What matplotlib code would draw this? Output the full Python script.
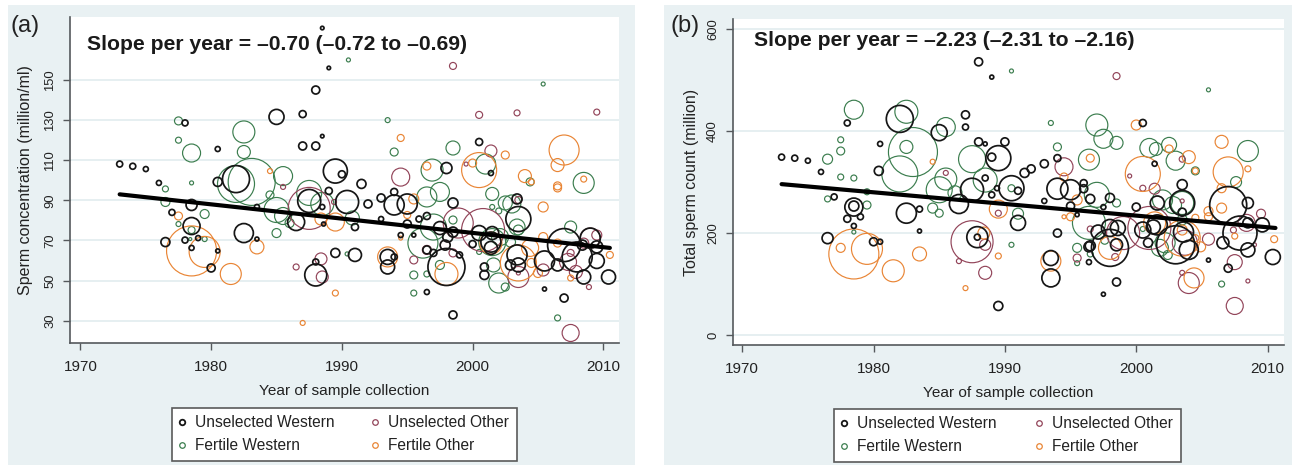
import matplotlib
matplotlib.use("Agg")
import matplotlib.pyplot as plt
from matplotlib.lines import Line2D
from matplotlib.patches import Rectangle

# (a) sperm concentration: year, value, bubble diameter (study weight)
a_uw_year = [1973, 1974, 1975, 1976, 1977, 1978, 1980.5, 1980.5, 1981.9, 1978.5, 1978.5, 1976.5, 1978, 1978.5, 1979, 1980.5, 1980, 1982.5, 1983.5, 1983.5,
             1985, 1987, 1987, 1988, 1988, 1988.5, 1988.5, 1989, 1986.5, 1987.5, 1989.5, 1990, 1989, 1991.5, 1990.4, 1992, 1988.5, 1988.6, 1991, 1989.5,
             1991, 1988, 1988, 1993.5, 1993.5, 1994, 1993, 1994, 1994, 1995, 1993, 1995, 1995.9, 1994.5, 1995.5, 1998, 2000.5, 2001.4, 1998.5, 2003.4,
             2003.5, 1996.5, 1997.5, 1998.1, 1998.5, 1997.9, 1996.5, 1997, 1999, 1998, 1996.5, 1998.5, 2000, 2000.5, 2001.5, 2001.4, 2001.4, 2000.9, 2000.9, 2003.4,
             2003.5, 2002.9, 2005.5, 2005.5, 2007, 2007, 2006.5, 2008, 2008.5, 2008.4, 2009.5, 2009, 2009.5, 2010.4]
a_uw_val = [108.1, 107, 105.6, 98.7, 84, 128.6, 115.6, 99.2, 100.6, 87.7, 77.2, 69.2, 70.2, 66.3, 71.2, 64.8, 56.3, 73.7, 70.7, 86.7,
            131.6, 133, 117.1, 117.1, 145, 122, 175.9, 156, 79.2, 89.7, 104.6, 103, 94.7, 98.2, 89.2, 88.2, 86.7, 78.2, 76.7, 63.8,
            62.8, 59.3, 52.8, 61.8, 56.8, 61.8, 91.2, 94.2, 87.7, 88.2, 80.7, 78.2, 80.7, 72.7, 72.7, 106.1, 119.1, 103.6, 88.7, 90.7,
            80.7, 82.2, 76.2, 71.7, 74.2, 67.7, 65.3, 63.8, 62.8, 56.8, 44.3, 32.9, 68.2, 73.7, 73.7, 69.2, 66.3, 56.8, 52.8, 62.8,
            57.8, 57.8, 59.8, 45.8, 41.3, 67.7, 57.8, 61.8, 51.8, 67.7, 59.8, 71.2, 66.8, 51.8]
a_uw_size = [6, 6, 5, 5, 6, 6, 5, 9, 27, 11, 17, 9, 6, 5, 5, 4, 8, 19, 4, 5,
             15, 7, 8, 8, 8, 3.5, 3.5, 3.5, 17, 23, 24, 7, 7, 9, 23, 8, 5, 4, 7, 9,
             13, 6, 22, 15, 14, 6, 8, 7, 20, 20, 5, 8, 6, 5, 4, 11, 7, 5, 10, 10,
             25, 7, 13, 10, 10, 10, 8, 7, 6, 37, 5, 8, 7, 15, 13, 20, 13, 8, 9, 20,
             14, 10, 20, 4, 8, 33, 12, 30, 14, 10, 15, 20, 12, 14]

a_fw_year = [1977.5, 1977.5, 1978.5, 1978.5, 1976.5, 1976.5, 1979.5, 1977.5, 1978.5, 1978.4, 1979.5, 1982.5, 1982.5, 1983.1, 1981.9, 1985.5, 1984.5, 1985, 1985.5, 1986,
             1985, 1987.5, 1988.5, 1990.4, 1990.8, 1990.5, 1993.5, 1994, 1998.5, 1996.9, 2001, 1996.5, 1997.5, 2001.5, 2004.4, 2008.5, 2005.4, 2002.5, 2003, 2001.5,
             2002, 2003.4, 2003.5, 1998.5, 1997, 2007.5, 1996.2, 1997.5, 1995.5, 1996.5, 1995.5, 2000.5, 2006.5, 2001.6, 2002, 2002.5, 2001.5, 2002.1, 2002.9]
a_fw_val = [129.6, 120, 113.6, 98.7, 95.7, 89.2, 83.2, 78.2, 75.2, 70.7, 70.7, 124.1, 114.1, 99.2, 98.2, 102.1, 92.7, 85.2, 82.2, 78.7,
            73.7, 93.7, 88.2, 63.3, 81.2, 160, 130, 114.1, 116.1, 105.1, 108.1, 91.7, 94.2, 93.2, 99.2, 98.7, 148, 88.7, 88.2, 86.7,
            84.7, 76.7, 75.2, 80.2, 76.7, 76.7, 68.7, 57.8, 52.8, 53.3, 43.8, 64.3, 31.4, 57.8, 48.8, 46.8, 69.2, 71.7, 69.2]
a_fw_size = [8, 6, 18, 4, 6, 9, 9, 5, 7, 3, 5, 22, 13, 47, 37, 19, 8, 25, 17, 9,
             9, 25, 23, 4, 14, 4, 5, 8, 14, 22, 20, 20, 19, 13, 8, 21, 4, 14, 18, 5,
             6, 16, 10, 8, 26, 12, 30, 9, 8, 6, 6, 5, 6, 14, 20, 8, 27, 17, 10]

a_uo_year = [1985.5, 1987.5, 1986.5, 1988.4, 1988.5, 1994.5, 1989.4, 1995.5, 1998.5, 2000.5, 2003.4, 2009.5, 2001.4, 1999.5, 1998.9, 2000.8, 2003.5, 2005.4, 2007.5, 2008.9,
             2007.5, 2007.3, 2007.9, 2009, 2009.5, 2008.5, 1998.5, 1996.5, 2003.5, 2003.5]
a_uo_val = [96.7, 86, 56.8, 60.8, 51.8, 101.6, 89.2, 60.3, 157, 132.6, 133.6, 134, 114.6, 108.1, 78.7, 75.2, 51.8, 55.3, 23.9, 46.8,
            63.8, 59.3, 54.3, 71.2, 72.7, 68.7, 63.8, 65.3, 53.8, 90.2]
a_uo_size = [5, 42, 6, 12, 12, 18, 5, 8, 7, 7, 6, 6, 12, 4, 30, 43, 21, 12, 17, 5,
             7, 17, 13, 20, 10, 10, 8, 9, 4, 7]

a_fo_year = [1984.5, 1978.5, 1979.5, 1981.5, 1983.5, 1987, 1977.5, 1988.4, 1989.5, 1995, 1995.5, 1993.5, 1989.5, 1994.5, 1994.5, 1996.5, 2000, 2000.5, 2002.5, 2004,
             2004.5, 2005.4, 2006.5, 2006.5, 2006.5, 2007, 2008.5, 2010.5, 1998, 2003.5, 2004.5, 2005, 2005.4, 2006.5, 2007.5, 2001.4, 2004.4]
a_fo_val = [104.6, 64.8, 64.3, 53.3, 66.8, 28.9, 82.2, 80.7, 79.2, 82.7, 90.7, 61.8, 43.8, 71.2, 121.1, 107.1, 108.6, 105.1, 112.6, 102.1,
            99.2, 86.7, 107.6, 97.2, 96.2, 115.1, 100.6, 62.8, 53.3, 58.8, 58.8, 53.8, 71.7, 68.7, 51.3, 68.7, 66.3]
a_fo_size = [5, 50, 31, 21, 14, 5, 8, 12, 18, 7, 10, 20, 6, 4, 7, 8, 8, 35, 8, 13,
             6, 10, 13, 8, 8, 30, 6, 7, 23, 36, 9, 9, 9, 8, 6, 22, 17]

a_trend_year = [1973, 2010.5]
a_trend_val = [93, 66.3]

# (b) total sperm count
b_uw_year = [1973, 1974, 1975, 1976, 1978, 1980.5, 1980.4, 1982, 1985, 1987, 1987, 1988, 1989, 1988, 1988.5, 1990, 1989.5, 1989, 1988.5, 1987.5,
             1986.5, 1978.5, 1978.5, 1977, 1978, 1979, 1979.5, 1982.5, 1983.5, 1983.5, 1978.5, 1976.5, 1980, 1980.5, 1987.9, 1987.9, 1989, 1989.4, 1990.5, 1991,
             1991.5, 1992, 1993, 1994, 1994, 1995, 1996, 1996, 1993, 1995, 1995.5, 1996.4, 1991, 1994, 1993.5, 1993.5, 1996.4, 1989.5, 1996.5, 1997.5,
             1998.5, 1998, 1998.5, 1996.5, 1998, 1997.5, 2000, 2001.4, 2003.5, 2001.6, 2003.5, 2003.5, 2007, 2008.5, 1997.1, 1998, 1998.6, 2000.5, 2000.9, 2001.3,
             2001.6, 2003.6, 2003, 2004, 2005.5, 2006.6, 2007.9, 2008.5, 2008.5, 2009.6, 2010.4, 2007, 2000.5]
b_uw_val = [349, 347, 342, 320, 416, 375, 322, 424, 397, 432, 408, 536, 506, 379, 375, 379, 347, 349, 308, 285,
            257, 251, 253, 271, 228, 232, 281, 239, 247, 204, 214, 190, 183, 183, 192, 192, 275, 288, 288, 283,
            318, 326, 336, 347, 287, 285, 298, 287, 263, 253, 236, 173, 220, 200, 151, 112, 143, 57, 175, 80,
            104, 171, 177, 267, 269, 251, 251, 336, 295, 259, 259, 241, 255, 259, 202, 210, 210, 206, 181, 212,
            216, 202, 177, 167, 147, 181, 200, 167, 220, 216, 153, 131, 416]
b_uw_size = [6, 6, 5, 5, 6, 5, 9, 27, 16, 8, 6, 8, 4, 8, 4, 8, 25, 8, 6, 23,
             19, 18, 10, 6, 7, 6, 3, 20, 6, 4, 5, 11, 8, 5, 21, 6, 6, 5, 25, 7,
             9, 8, 8, 7, 21, 20, 7, 8, 5, 8, 4, 10, 15, 8, 15, 18, 5, 9, 10, 4,
             8, 37, 12, 9, 9, 5, 8, 5, 10, 14, 25, 8, 37, 11, 14, 17, 15, 16, 9, 14,
             20, 20, 38, 19, 4, 12, 34, 14, 10, 14, 15, 8, 7]

b_fw_year = [1978.5, 1977.5, 1977.5, 1976.5, 1977.5, 1978.5, 1976.5, 1979.5, 1979.5, 1978.5, 1982.5, 1982.5, 1983, 1982, 1985.5, 1985.5, 1985, 1984.5, 1985, 1986.2,
             1987.5, 1988.5, 1990.5, 1990.5, 1991, 1994, 1993.5, 1990.5, 2005.5, 1997, 1997.5, 1998.5, 1996.4, 2001, 2001.5, 2002.5, 2003, 2004.5, 2008.5, 2007.6,
             1997, 1998.5, 1996.4, 2002, 2002.8, 2003.5, 2003.5, 1995.5, 1996.5, 1995.5, 2006.5, 2001.8, 2002.4, 1997.6, 2000.5, 2002.2]
b_fw_val = [442, 383, 361, 345, 310, 308, 267, 255, 281, 202, 438, 369, 359, 316, 408, 306, 285, 249, 239, 279,
            345, 304, 288, 177, 238, 369, 416, 518, 481, 412, 385, 377, 344, 367, 365, 373, 342, 322, 361, 300,
            275, 259, 220, 265, 255, 259, 226, 171, 159, 141, 100, 171, 157, 186, 208, 181]
b_fw_size = [19, 6, 8, 10, 6, 6, 6, 8, 6, 4, 23, 13, 49, 36, 19, 22, 26, 10, 8, 14,
             27, 24, 7, 5, 11, 8, 5, 4, 4, 22, 19, 13, 21, 19, 13, 15, 19, 8, 21, 11,
             25, 8, 33, 20, 17, 23, 10, 9, 6, 5, 6, 17, 9, 8, 5, 20]

b_uo_year = [1985.5, 1987.5, 1986.5, 1988.5, 1989.5, 1988.5, 1994.5, 1995.5, 1998.5, 2003.5, 1999.5, 2000.5, 2001.4, 2003.5, 2009.5, 2008.4, 2003.5, 2004, 2007.5, 2007.5,
             2008.5, 1996.5, 1998.4, 2001, 1999, 2009, 2003.7, 2007.4, 2005.5]
b_uo_val = [318, 183, 145, 177, 239, 122, 330, 151, 508, 345, 312, 288, 287, 263, 238, 220, 122, 102, 143, 57,
            106, 208, 153, 210, 200, 177, 181, 206, 188]
b_uo_size = [5, 42, 5, 11, 6, 13, 18, 8, 7, 6, 4, 6, 11, 4, 9, 17, 5, 21, 15, 17,
             4, 6, 7, 43, 33, 4, 25, 6, 12]

b_fo_year = [1984.5, 1978.5, 1979.5, 1977.5, 1981.5, 1983.5, 1987, 1989.5, 1989.5, 1988.4, 1993.5, 1994.5, 1995, 1995.5, 1996.5, 2000, 2000.5, 2002.5, 2004, 2004.5,
             2006.5, 2007, 2008.5, 2006.5, 2006.5, 2005.5, 2005.5, 1994.5, 2010.5, 2004.4, 1998, 2003.5, 2004.5, 2004.9, 2007.5, 2001.4, 2003.5, 2004.5]
b_fo_val = [340, 159, 169, 171, 126, 159, 92, 247, 155, 200, 145, 232, 232, 265, 347, 412, 316, 365, 349, 322,
            379, 320, 326, 288, 249, 243, 232, 310, 188, 112, 171, 190, 190, 173, 194, 220, 206, 230]
b_fo_size = [5, 50, 31, 9, 22, 14, 5, 18, 6, 12, 20, 4, 8, 10, 8, 10, 35, 8, 13, 6,
             13, 30, 6, 9, 10, 9, 8, 8, 7, 20, 23, 36, 7, 10, 6, 22, 10, 7]

b_trend_year = [1973, 2010.6]
b_trend_val = [296, 210]

x_ticks = [1970, 1980, 1990, 2000, 2010]
a_y_ticks = [30, 50, 70, 90, 110, 130, 150]
b_y_ticks = [0, 200, 400, 600]
legend_labels = ["Unselected Western", "Fertile Western", "Unselected Other", "Fertile Other"]

BLACK = "#161616"
GREEN = "#3b7d4e"
MAROON = "#924459"
ORANGE = "#e98535"
BAND = "#e9f1f3"
AXIS = "#55595c"

plt.rcParams["font.family"] = ["Liberation Sans", "DejaVu Sans"]

W, H = 1292, 465
fig = plt.figure(figsize=(W / 100, H / 100), dpi=100, facecolor="white")


def box(l, t, r, b):
    # pixel box -> figure fractions
    return [l / W, 1 - b / H, (r - l) / W, (b - t) / H]


def panel(bg_box, ax_box, leg_box, xlim, ylim, yticks, ylabel, ylabel_x, title, title_xy, letter, letter_x, groups, trend):
    x, y, w, h = box(*bg_box)
    fig.add_artist(Rectangle((x, y), w, h, transform=fig.transFigure, facecolor=BAND, edgecolor="none", zorder=-5))
    ax = fig.add_axes(box(*ax_box))
    ax.set_xlim(xlim)
    ax.set_ylim(ylim)
    ax.set_xticks(x_ticks)
    ax.set_yticks(yticks)
    ax.tick_params(axis="x", length=5, width=1, color=AXIS, labelsize=11, labelcolor="#222222", pad=7)
    ax.tick_params(axis="y", length=5, width=1, color=AXIS, labelsize=9.4, labelcolor="#222222", pad=5)
    for lab in ax.get_yticklabels():
        lab.set_rotation(90)
        lab.set_va("center")
    for s in ["top", "right"]:
        ax.spines[s].set_visible(False)
    for s in ["left", "bottom"]:
        ax.spines[s].set_color(AXIS)
        ax.spines[s].set_linewidth(1.2)
    ax.grid(True, axis="y", color="#e4eef0", linewidth=1.3)
    ax.set_axisbelow(True)

    for yrs, vals, sizes, col, lw in groups:
        ax.scatter(yrs, vals, s=[(d * 0.72) ** 2 for d in sizes], facecolors="none", edgecolors=col, linewidths=lw, clip_on=False)
    ax.plot(trend[0], trend[1], color="black", linewidth=3, solid_capstyle="round", zorder=5)

    ax.text(title_xy[0], title_xy[1], title, transform=fig.transFigure, fontsize=15.2, fontweight="bold", color="#1a1a1a", va="center", ha="left", zorder=6)
    fig.text(letter_x / W, 1 - 26 / H, letter, fontsize=17, color="#222222", va="center", ha="left")
    ax.set_xlabel("Year of sample collection", fontsize=11.1, color="#222222")
    ax.xaxis.set_label_coords(0.5, -0.127)
    ax.set_ylabel(ylabel, fontsize=11.5, color="#222222")
    ax.yaxis.set_label_coords(ylabel_x, 0.5)

    handles = [Line2D([], [], linestyle="none", marker="o", markersize=4, markerfacecolor="none", markeredgecolor=BLACK, markeredgewidth=1.3),
               Line2D([], [], linestyle="none", marker="o", markersize=4, markerfacecolor="none", markeredgecolor=GREEN, markeredgewidth=0.9),
               Line2D([], [], linestyle="none", marker="o", markersize=4, markerfacecolor="none", markeredgecolor=MAROON, markeredgewidth=0.9),
               Line2D([], [], linestyle="none", marker="o", markersize=4, markerfacecolor="none", markeredgecolor=ORANGE, markeredgewidth=0.9)]
    lx, ly, lw_, lh = box(*leg_box)
    leg = ax.legend(handles, legend_labels, ncol=2, loc="lower left", bbox_to_anchor=(lx, ly, lw_, lh), bbox_transform=fig.transFigure,
                    mode="expand", borderaxespad=0, fontsize=11.2, frameon=True, fancybox=False, framealpha=1,
                    edgecolor="#5a5a5a", handletextpad=0.68, handlelength=0.31, columnspacing=0.5, labelspacing=0.5, borderpad=0.5)
    leg.get_frame().set_linewidth(1.2)
    for t in leg.get_texts():
        t.set_color("#222222")
    return ax


panel((8, 5, 635, 465), (70, 17, 619, 343), (172, 408, 517, 461), (1969.2, 2011.2), (18.9, 181.4), a_y_ticks,
      "Sperm concentration (million/ml)", -0.068, "Slope per year = –0.70 (–0.72 to –0.69)", (87 / W, 1 - 44 / H), "(a)", 11,
      [(a_fw_year, a_fw_val, a_fw_size, GREEN, 0.85),
       (a_uo_year, a_uo_val, a_uo_size, MAROON, 0.85),
       (a_fo_year, a_fo_val, a_fo_size, ORANGE, 0.85),
       (a_uw_year, a_uw_val, a_uw_size, BLACK, 1.25)],
      (a_trend_year, a_trend_val))

panel((664, 5, 1292, 465), (733, 19, 1284, 345), (834, 409, 1181, 462), (1969.3, 2011.25), (-19.6, 620), b_y_ticks,
      "Total sperm count (million)", -0.062, "Slope per year = –2.23 (–2.31 to –2.16)", (754 / W, 1 - 41 / H), "(b)", 671,
      [(b_fw_year, b_fw_val, b_fw_size, GREEN, 0.85),
       (b_uo_year, b_uo_val, b_uo_size, MAROON, 0.85),
       (b_fo_year, b_fo_val, b_fo_size, ORANGE, 0.85),
       (b_uw_year, b_uw_val, b_uw_size, BLACK, 1.25)],
      (b_trend_year, b_trend_val))

fig.savefig("out.png", dpi=100)
